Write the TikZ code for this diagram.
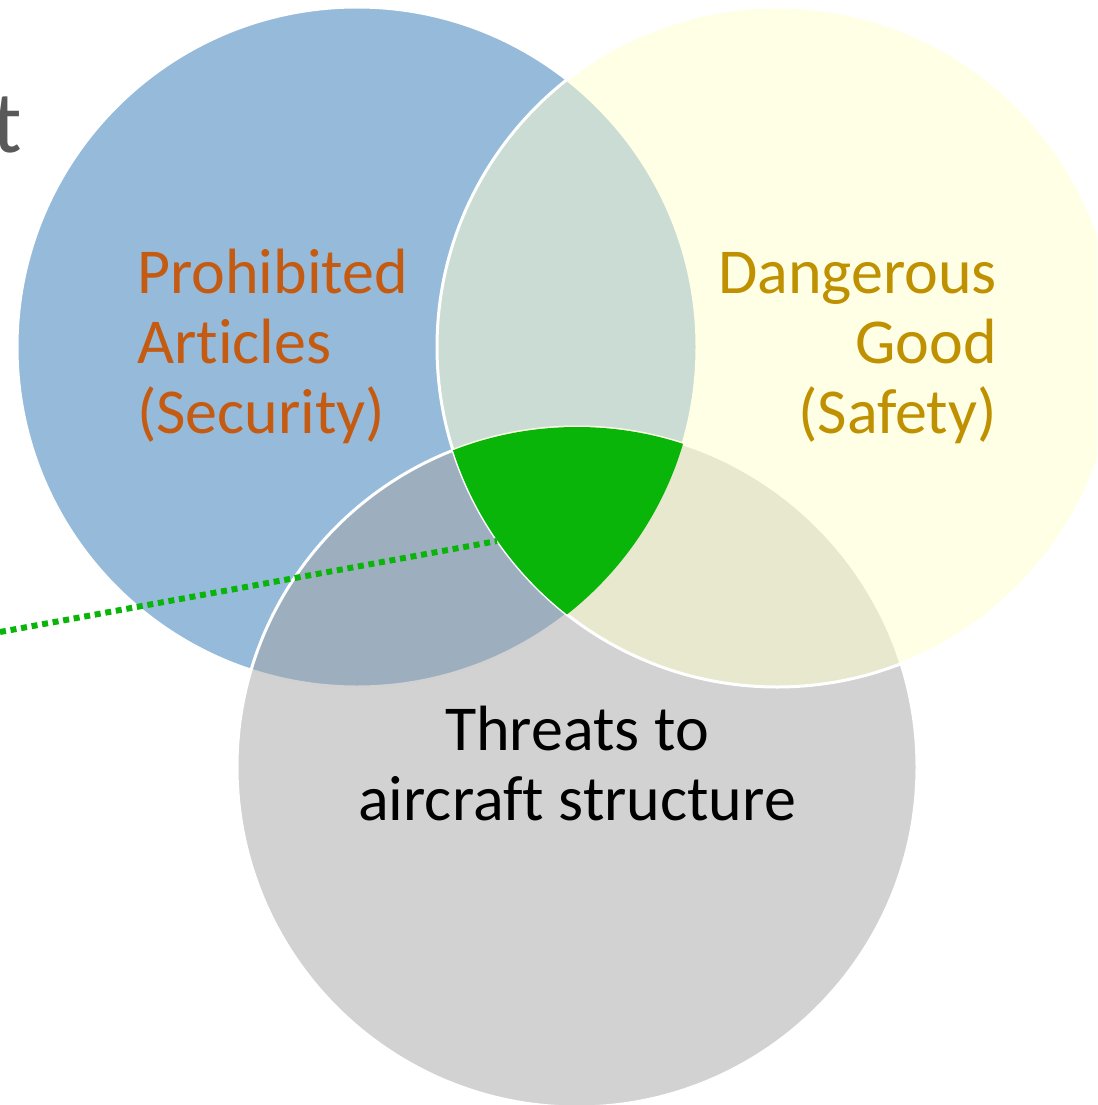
\documentclass[tikz,border=0pt]{standalone}
\usepackage{fontspec}
\setmainfont{Carlito}[Ligatures={NoCommon}]
\definecolor{cblue}{HTML}{2E75B6}
\definecolor{cgray}{HTML}{A5A5A5}
\definecolor{cyellow}{HTML}{FFFFCC}
\definecolor{cgreen}{RGB}{9,181,9}
\definecolor{corange}{HTML}{C55A11}
\definecolor{cgold}{HTML}{BF9000}
\definecolor{ctgray}{HTML}{595959}
\tikzset{
  setcircle/.style={draw=white, line width=3pt, fill opacity=0.5},
  bigtext/.style={font=\fontsize{64}{70}\selectfont, inner sep=0pt},
}
\begin{document}
\begin{tikzpicture}[x=1pt,y=-1pt]
\useasboundingbox (0,0) rectangle (1097,1105);
\begin{scope}
\clip (0,0) rectangle (1097,1105);
\node[anchor=base east, inner sep=0pt, text=ctgray, font=\fontsize{88}{100}\selectfont] (frag) at (22,152) {t};
\path[setcircle, fill=cblue] (357,347) circle[radius=340];
\path[setcircle, fill=cgray] (577,767) circle[radius=340];
\path[setcircle, fill=cyellow] (777,347) circle[radius=340];
\coordinate (lstart) at (0,632);
\coordinate (lend) at (497,541);
\draw[cgreen, line width=6pt, dash pattern=on 6pt off 4.7pt] (lstart) -- (lend);
\begin{scope}
\clip (357,347) circle[radius=340];
\clip (777,347) circle[radius=340];
\fill[cgreen] (577,767) circle[radius=340];
\end{scope}
\end{scope}
\node[bigtext, anchor=base west, align=left, text=corange] (prohib) at (137,433) {Prohibited\\Articles\\(Security)};
\node[bigtext, anchor=base east, align=right, text=cgold] (danger) at (997,433) {Dangerous\\Good\\(Safety)};
\node[bigtext, anchor=base, align=center, text=black] (threat) at (577,820) {Threats to\\aircraft structure};
\end{tikzpicture}
\end{document}
